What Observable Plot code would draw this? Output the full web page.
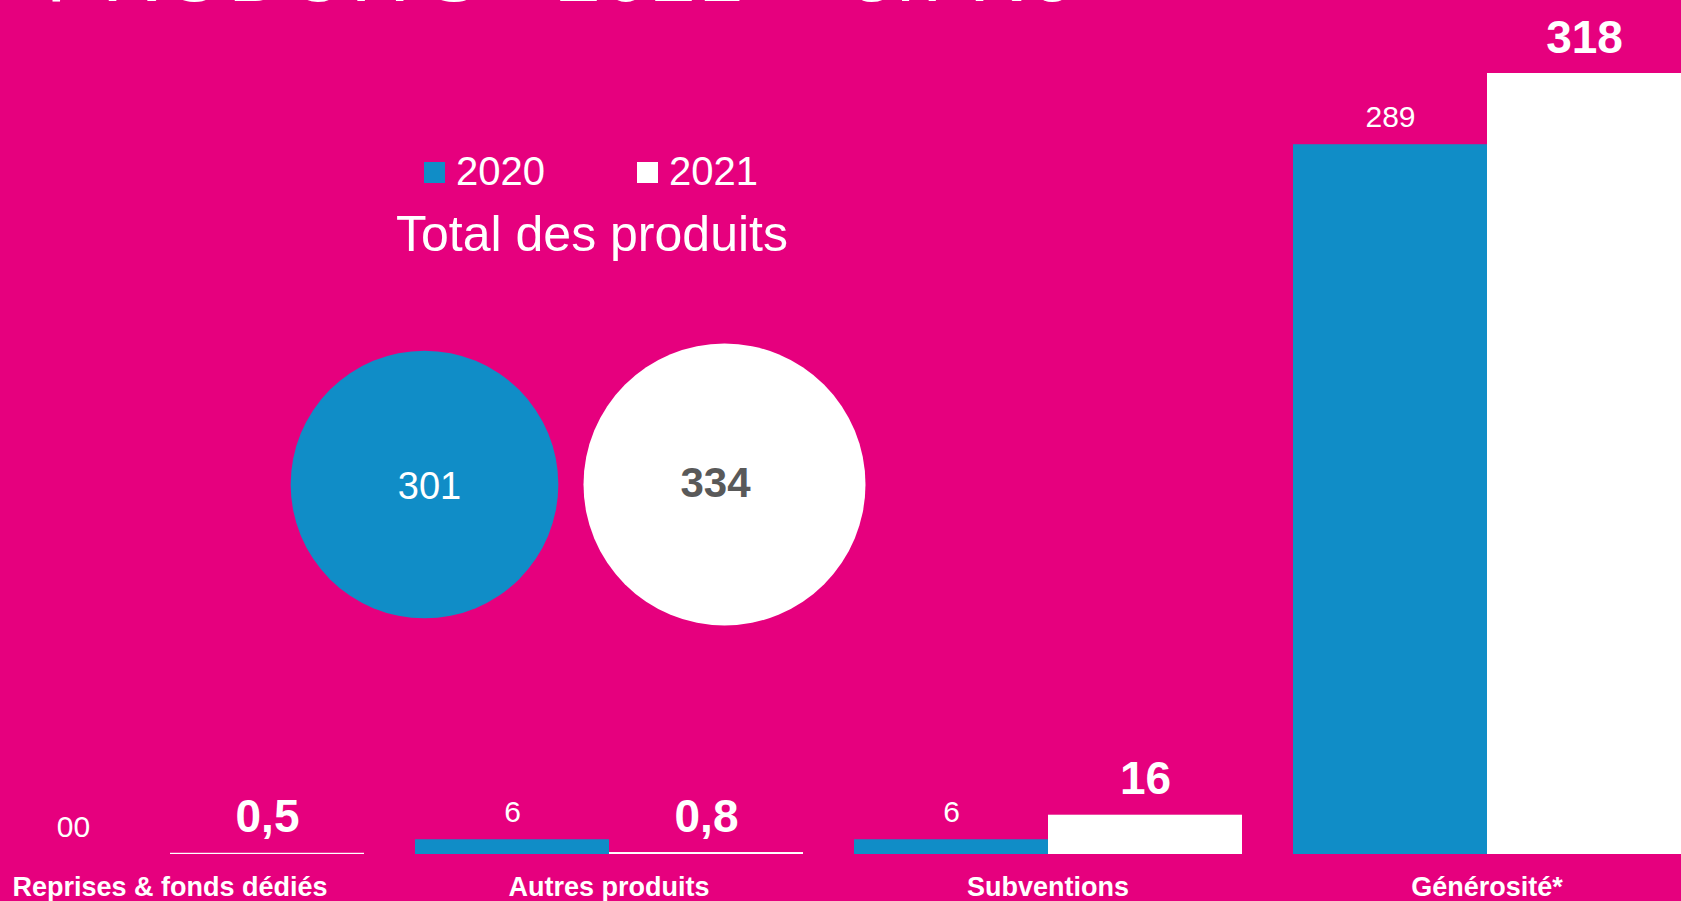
<!DOCTYPE html>
<html>
<head>
<meta charset="utf-8">
<script src="https://cdn.jsdelivr.net/npm/d3@7"></script>
<script src="https://cdn.jsdelivr.net/npm/@observablehq/plot@0.6"></script>
<style>
  html, body { margin: 0; padding: 0; background: #E6007E; overflow: hidden; }
  #stage { position: relative; width: 1681px; height: 901px; overflow: hidden; background: #E6007E;
           font-family: "Liberation Sans", Arial, sans-serif; color: white; }
  #bars { position: absolute; left: -27px; top: 0; width: 1710px; height: 901px; }
  #bubbles { position: absolute; left: 0; top: 0; width: 1681px; height: 901px; pointer-events: none; }
  #stage svg { max-width: none !important; }
  #title { position: absolute; left: 46px; top: -66px; font-size: 80px; line-height: 80px;
           letter-spacing: 3px; white-space: pre; }
  #title .t2 { margin-left: 73px; }
  #title .t3 { margin-left: 30px; }
  #legend { position: absolute; left: 0; top: 0; }
  .lg-item { position: absolute; top: 151px; font-size: 40px; line-height: 40px; white-space: nowrap; }
  .lg-sw { position: absolute; width: 21px; height: 21px; top: 11px; left: -32px; }
  #total { position: absolute; left: 382px; width: 420px; text-align: center; top: 209px;
           font-size: 50px; line-height: 50px; white-space: nowrap; }
  #bars svg [aria-label^="fx-axis"] text { font-size: 27px; font-weight: bold; fill: white; }
</style>
</head>
<body>
<div id="stage">
  <div id="title"><span>PRODUITS</span><span class="t2">2021</span><span class="t3">– en K€</span></div>
  <div id="legend"></div>
  <div id="total">Total des produits</div>
  <div id="bars"></div>
  <div id="bubbles"></div>
</div>
<script>
// ---- data ----
const categories = ["Reprises & fonds dédiés", "Autres produits", "Subventions", "Générosité*"];
const years = ["2020", "2021"];
const values2020 = [0, 6, 6, 289];
const values2021 = [0.5, 0.8, 16, 318];
const labels2020 = ["00", "6", "6", "289"];
const labels2021 = ["0,5", "0,8", "16", "318"];
const totalValues = [301, 334];
const totalLabels = ["301", "334"];
const legendTitle = "Total des produits";

// ---- styles ----
const BLUE = "#108DC7";
const WHITE = "#FFFFFF";
const colorRange = [BLUE, WHITE];

// table
const rows = [];
categories.forEach((c, i) => {
  rows.push({category: c, year: years[0], value: values2020[i], label: labels2020[i]});
  rows.push({category: c, year: years[1], value: values2021[i], label: labels2021[i]});
});

const bars = Plot.plot({
  width: 1710,
  height: 901,
  marginLeft: 0,
  marginRight: 0,
  marginTop: 73,
  marginBottom: 47,
  style: {background: "transparent", color: "white", fontFamily: "Liberation Sans, Arial, sans-serif", fontSize: "27px", overflow: "visible", maxWidth: "none"},
  fx: {domain: categories, padding: 0.1136, axis: "bottom", tickSize: 0, tickPadding: 22, label: null},
  x: {domain: years, padding: 0, axis: null},
  y: {domain: [0, 318], axis: null},
  color: {domain: years, range: colorRange},
  marks: [
    Plot.barY(rows, {fx: "category", x: "year", y: "value", fill: "year"}),
    Plot.text(rows.filter(d => d.year === years[0]), {
      fx: "category", x: "year", y: "value", text: "label",
      lineAnchor: "bottom", dy: -18, fontSize: 30, fontWeight: "normal", fill: "white"
    }),
    Plot.text(rows.filter(d => d.year === years[1]), {
      fx: "category", x: "year", y: "value", text: "label",
      lineAnchor: "bottom", dy: -21, fontSize: 46, fontWeight: "bold", fill: "white"
    })
  ]
});
document.getElementById("bars").appendChild(bars);

// bubbles
const totals = years.map((y, i) => ({year: y, value: totalValues[i], label: totalLabels[i]}));
const bubbles = Plot.plot({
  width: 1681,
  height: 901,
  marginLeft: 0, marginRight: 0, marginTop: 67, marginBottom: 0,
  style: {background: "transparent", fontFamily: "Liberation Sans, Arial, sans-serif", overflow: "visible", maxWidth: "none"},
  x: {type: "point", domain: years, range: [423.5, 724], padding: 0, axis: null},
  r: {type: "sqrt", domain: [0, 334], range: [0, 141]},
  color: {domain: years, range: colorRange},
  marks: [
    Plot.dot(totals, {x: "year", r: "value", fill: "year", stroke: null}),
    Plot.text(totals.filter(d => d.year === years[0]), {x: "year", text: "label", fontSize: 38, fill: "white", dx: 5, dy: 2}),
    Plot.text(totals.filter(d => d.year === years[1]), {x: "year", text: "label", fontSize: 42, fontWeight: "bold", fill: "#595959", dx: -9, dy: -1})
  ]
});
document.getElementById("bubbles").appendChild(bubbles);

// legend
const legend = document.getElementById("legend");
const legendX = [456, 669];
years.forEach((y, i) => {
  const item = document.createElement("div");
  item.className = "lg-item";
  item.style.left = legendX[i] + "px";
  const sw = document.createElement("span");
  sw.className = "lg-sw";
  sw.style.background = colorRange[i];
  item.appendChild(sw);
  item.appendChild(document.createTextNode(y));
  legend.appendChild(item);
});
document.getElementById("total").textContent = legendTitle;
</script>
</body>
</html>
